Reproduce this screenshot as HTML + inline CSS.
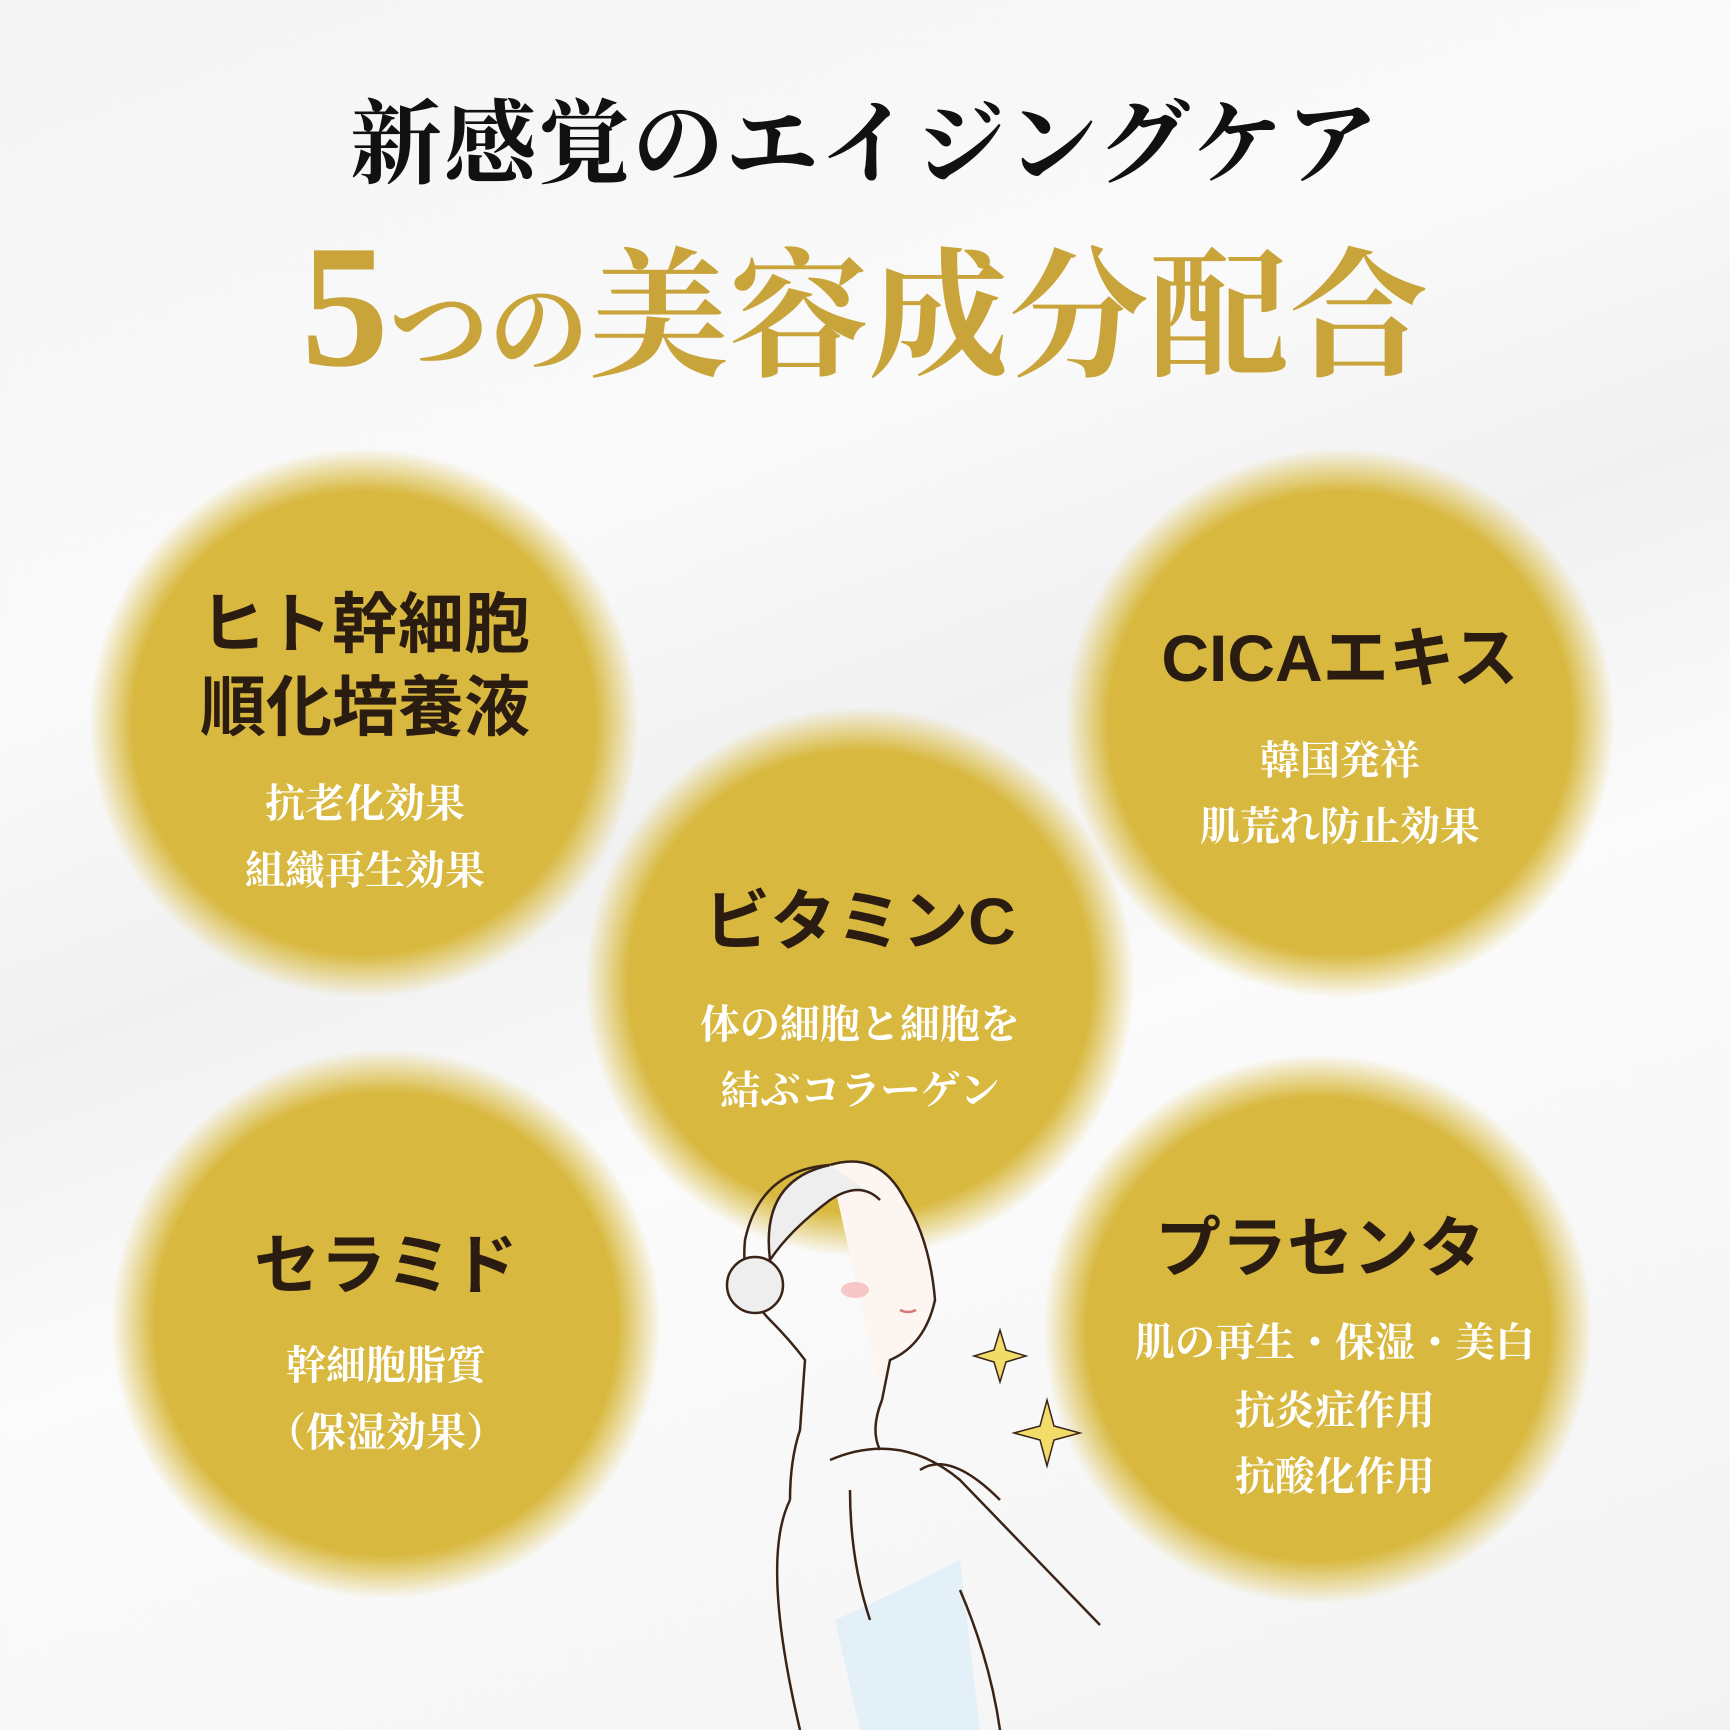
<!DOCTYPE html>
<html><head><meta charset="utf-8"><style>
*{margin:0;padding:0}
body{width:1730px;height:1730px;position:relative;overflow:hidden;background:linear-gradient(160deg,#f4f4f4 0%,#fafafa 30%,#f1f1f1 45%,#fbfbfb 60%,#f3f3f3 100%);font-family:"Liberation Sans","Noto Sans CJK JP",sans-serif}
.c{position:absolute;width:550px;height:550px;border-radius:50%;background:radial-gradient(circle closest-side,#d8b83e 0%,#d8b83e 84%,rgba(222,196,90,0.6) 92%,rgba(250,250,250,0) 100%)}
.t{position:absolute;left:0;width:1730px;text-align:center;white-space:nowrap}
.h{font-weight:bold;color:#2b1c12;font-size:66px;font-family:"Liberation Sans","Noto Sans CJK JP",sans-serif}
.s{font-weight:bold;color:#fff;font-size:40px;font-family:"Liberation Serif","Noto Serif CJK SC",serif}
</style></head><body>
<div class="c" style="left:89px;top:448px"></div>
<div class="c" style="left:1065px;top:448px"></div>
<div class="c" style="left:585px;top:707px"></div>
<div class="c" style="left:111px;top:1049px"></div>
<div class="c" style="left:1043px;top:1054px"></div>

<div class="t" style="top:71px;font-size:92px;font-weight:bold;color:#111;font-family:'Liberation Serif','Noto Serif CJK SC',serif;letter-spacing:2px">新感覚のエイジングケア</div>
<div class="t" style="top:205px;color:#c9a43a;font-weight:bold;font-family:'Liberation Serif','Noto Serif CJK SC',serif"><span style="font-size:175px">5</span><span style="font-size:100px">つの</span><span style="font-size:140px">美容成分配合</span></div>

<div class="t h" style="top:571px;left:-1300px;width:3330px">ヒト幹細胞</div>
<div class="t h" style="top:654px;left:-1005px;width:2740px">順化培養液</div>
<div class="t s" style="top:772px;left:-1000px;width:2730px">抗老化効果</div>
<div class="t s" style="top:839px;left:-1000px;width:2730px">組織再生効果</div>

<div class="t h" style="top:605px;left:950px;width:780px">CICAエキス</div>
<div class="t s" style="top:729px;left:950px;width:780px">韓国発祥</div>
<div class="t s" style="top:795px;left:950px;width:780px">肌荒れ防止効果</div>

<div class="t h" style="top:868px;left:470px;width:780px">ビタミンC</div>
<div class="t s" style="top:993px;left:470px;width:780px">体の細胞と細胞を</div>
<div class="t s" style="top:1059px;left:470px;width:780px">結ぶコラーゲン</div>

<div class="t h" style="top:1212px;left:-4px;width:780px">セラミド</div>
<div class="t s" style="top:1334px;left:-4px;width:780px">幹細胞脂質</div>
<div class="t s" style="top:1401px;left:-4px;width:780px">（保湿効果）</div>

<div class="t h" style="top:1195px;left:930px;width:780px">プラセンタ</div>
<div class="t s" style="top:1311px;left:945px;width:780px">肌の再生・保湿・美白</div>
<div class="t s" style="top:1379px;left:945px;width:780px">抗炎症作用</div>
<div class="t s" style="top:1445px;left:945px;width:780px">抗酸化作用</div>

<svg style="position:absolute;left:0;top:0" width="1730" height="1730" fill="none" stroke="#3a2418" stroke-width="2.5">
<path d="M835 1620 Q880 1600 960 1560 L980 1730 L860 1730 Z" fill="#e3f0f8" stroke="none"/>
<path d="M830 1165 Q880 1150 905 1200 Q930 1240 935 1300 Q925 1345 890 1360 L882 1400" fill="#fdf6f0"/>
<path d="M830 1165 Q760 1170 745 1240 Q740 1290 770 1320 Q790 1340 805 1360 L800 1430 Q790 1460 790 1500" />
<path d="M830 1165 Q760 1180 770 1260 Q790 1230 830 1200 Q860 1180 880 1200" fill="#eee"/>
<circle cx="755" cy="1285" r="28" fill="#eee"/>
<path d="M882 1400 Q870 1430 880 1450"/>
<path d="M790 1500 Q760 1560 800 1730"/>
<path d="M830 1460 Q900 1430 960 1480 L1100 1625"/>
<path d="M920 1470 Q950 1450 1000 1500"/>
<path d="M960 1590 Q990 1660 1000 1730"/>
<path d="M850 1490 Q850 1560 870 1620"/>
<path d="M1000 1330 l6 20 l20 6 l-20 6 l-6 20 l-6 -20 l-20 -6 l20 -6 z" fill="#f1dc6a" stroke="#3a2418" stroke-width="1.5"/>
<path d="M1047 1400 l7 26 l26 7 l-26 7 l-7 26 l-7 -26 l-26 -7 l26 -7 z" fill="#f1dc6a" stroke="#3a2418" stroke-width="1.5"/>
<ellipse cx="855" cy="1290" rx="14" ry="8" fill="#f7c6c6" stroke="none"/>
<path d="M900 1310 q8 4 16 0" stroke="#d97777"/>
</svg>
</body></html>
